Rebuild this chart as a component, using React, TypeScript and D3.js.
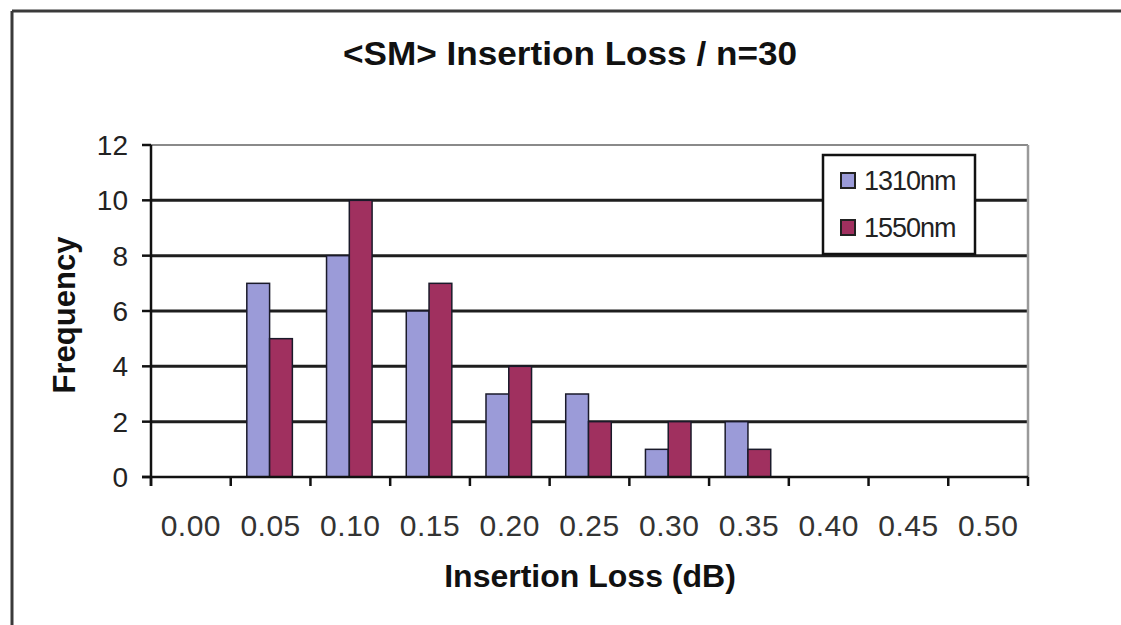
import React from "react";
import * as d3 from "d3";

const categories = ["0.00", "0.05", "0.10", "0.15", "0.20", "0.25", "0.30", "0.35", "0.40", "0.45", "0.50"];
const series1310 = [0, 7, 8, 6, 3, 3, 1, 2, 0, 0, 0];
const series1550 = [0, 5, 10, 7, 4, 2, 2, 1, 0, 0, 0];
const seriesNames = ["1310nm", "1550nm"];
const seriesColors = ["#9b9bd8", "#a0305f"];
const yTicks = [0, 2, 4, 6, 8, 10, 12];

const W = 1121;
const H = 625;
const plot = { left: 151, right: 1028, top: 145, bottom: 477 };
const FONT = "'Liberation Sans', Arial, Helvetica, sans-serif";

export default function App() {
  const x = d3.scaleBand<string>().domain(categories).range([plot.left, plot.right]).paddingInner(0).paddingOuter(0);
  const y = d3.scaleLinear().domain([0, 12]).range([plot.bottom, plot.top]);
  const barW = x.bandwidth() / 3.5;
  const seriesList = [series1310, series1550];

  return (
    <svg width={W} height={H} style={{ position: "absolute", left: 0, top: 0, background: "#fff" }} fontFamily={FONT}>
      <rect x={0} y={0} width={W} height={H} fill="#fff" />
      {/* outer frame */}
      <line x1={12} y1={11} x2={W} y2={11} stroke="#3a3a3a" strokeWidth={3} />
      <line x1={12} y1={11} x2={12} y2={H} stroke="#3a3a3a" strokeWidth={3} />

      {/* title */}
      <text x={570} y={65} textAnchor="middle" fontSize={34} fontWeight="bold" fill="#111" textLength={454} lengthAdjust="spacingAndGlyphs">
        {"<SM> Insertion Loss / n=30"}
      </text>

      {/* gridlines */}
      {yTicks.filter((t) => t > 0 && t < 12).map((t) => (
        <line key={t} x1={plot.left} x2={plot.right} y1={y(t)} y2={y(t)} stroke="#1e1e1e" strokeWidth={3} />
      ))}
      <line x1={plot.left} x2={plot.right} y1={y(12)} y2={y(12)} stroke="#8a8a8a" strokeWidth={2} />
      <line x1={plot.right} x2={plot.right} y1={y(12)} y2={y(0)} stroke="#9a9a9a" strokeWidth={2.5} />

      {/* bars */}
      {categories.map((c, i) => {
        const cx = (x(c) as number) + x.bandwidth() / 2 - 1;
        return seriesList.map((s, si) => {
          const v = s[i];
          if (!v) return null;
          const bx = cx - barW + si * barW;
          return (
            <rect key={c + si} x={bx} y={y(v)} width={barW} height={y(0) - y(v)} fill={seriesColors[si]} stroke="#1a1a2a" strokeWidth={1.5} />
          );
        });
      })}

      {/* axes */}
      <line x1={plot.left} x2={plot.left} y1={y(12)} y2={y(0) + 9} stroke="#111" strokeWidth={2.5} />
      <line x1={plot.left - 9} x2={plot.right} y1={y(0)} y2={y(0)} stroke="#111" strokeWidth={2.5} />
      {yTicks.map((t) => (
        <g key={t}>
          <line x1={plot.left - 9} x2={plot.left} y1={y(t)} y2={y(t)} stroke="#111" strokeWidth={2.5} />
          <text x={128} y={y(t)} dy="0.36em" textAnchor="end" fontSize={28} fill="#222">
            {t}
          </text>
        </g>
      ))}
      {categories.map((c) => (
        <line key={"tk" + c} x1={x(c) as number} x2={x(c) as number} y1={y(0)} y2={y(0) + 9} stroke="#111" strokeWidth={2.5} />
      ))}
      <line x1={plot.right} x2={plot.right} y1={y(0)} y2={y(0) + 9} stroke="#111" strokeWidth={2.5} />
      {categories.map((c) => (
        <text key={"lb" + c} x={(x(c) as number) + x.bandwidth() / 2} y={536} textAnchor="middle" fontSize={30} fill="#333" letterSpacing={0.5}>
          {c}
        </text>
      ))}

      {/* axis titles */}
      <text x={590} y={587} textAnchor="middle" fontSize={32} fontWeight="bold" fill="#111">
        Insertion Loss (dB)
      </text>
      <text transform="translate(75,315) rotate(-90)" textAnchor="middle" fontSize={31} fontWeight="bold" fill="#111">
        Frequency
      </text>

      {/* legend */}
      <rect x={823} y={155} width={152} height={99} fill="#fff" stroke="#111" strokeWidth={2.5} />
      {seriesNames.map((n, i) => (
        <g key={n}>
          <rect x={841} y={173 + i * 47} width={14} height={15} fill={seriesColors[i]} stroke="#222" strokeWidth={2} />
          <text x={864} y={180 + i * 47} dy="0.36em" fontSize={27} fill="#222" letterSpacing={-1}>
            {n}
          </text>
        </g>
      ))}
    </svg>
  );
}
